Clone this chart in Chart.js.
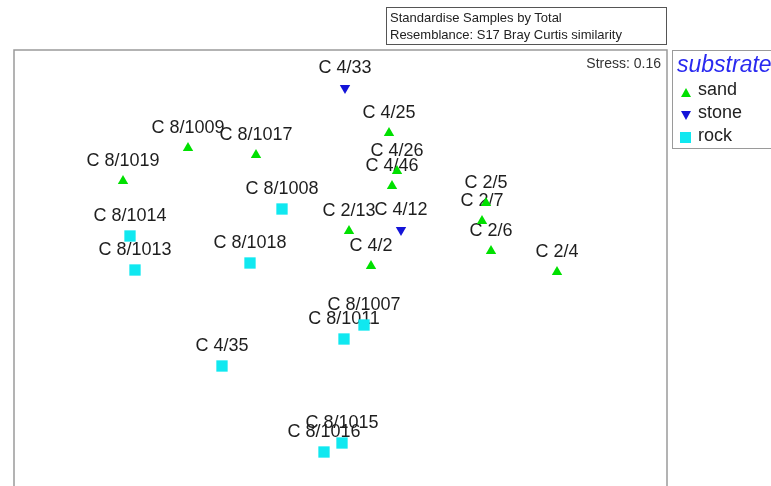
<!DOCTYPE html>
<html>
<head>
<meta charset="utf-8">
<title>nMDS – substrate</title>
<script src="https://cdn.jsdelivr.net/npm/chart.js@4.4.1/dist/chart.umd.min.js"></script>
<style>
  html, body { margin: 0; padding: 0; background: #fff; }
  #wrap { position: relative; width: 771px; height: 486px; overflow: hidden; font-family: "Liberation Sans", Arial, sans-serif; }
  #plot { position: absolute; left: 0; top: 0; }
  .box { position: absolute; box-sizing: border-box; }
  #info { left: 386px; top: 7px; width: 281px; height: 38px; border: 1px solid #555; font-size: 13px; color: #222; padding: 1px 0 0 3px; line-height: 17px; }
  #stress { right: 110px; top: 55px; font-size: 14px; color: #333; }
  #legend { left: 672px; top: 50px; width: 120px; height: 99px; border: 1.5px solid #9a9a9a; border-right: none; }
  #legend .ttl { position: absolute; left: 4px; top: 0px; font-size: 23px; font-style: italic; color: #2a2af0; white-space: nowrap; }
  #legend .item { position: absolute; left: 25px; font-size: 18px; color: #222; }
  .mk { position: absolute; left: 8px; width: 0; height: 0; }
</style>
</head>
<body>
<div id="wrap">
  <canvas id="plot" width="771" height="486"></canvas>
  <div class="box" id="info">Standardise Samples by Total<br>Resemblance: S17 Bray Curtis similarity</div>
  <div class="box" id="stress">Stress: 0.16</div>
  <div class="box" id="legend">
    <div class="ttl">substrate</div>
    <div class="mk" style="top:37px;border-left:5px solid transparent;border-right:5px solid transparent;border-bottom:9px solid #00e000;"></div>
    <div class="item" style="top:28px;">sand</div>
    <div class="mk" style="top:60px;border-left:5px solid transparent;border-right:5px solid transparent;border-top:9px solid #1414d8;"></div>
    <div class="item" style="top:51px;">stone</div>
    <div class="mk" style="top:81px;width:11px;height:11px;background:#10e8f0;left:7px;"></div>
    <div class="item" style="top:74px;">rock</div>
  </div>
</div>
<script>
// nMDS ordination coordinates (arbitrary units), grouped by substrate
const sandLabels = ['C 8/1009', 'C 8/1017', 'C 8/1019', 'C 4/25', 'C 4/26', 'C 4/46', 'C 2/13', 'C 4/2', 'C 2/5', 'C 2/7', 'C 2/6', 'C 2/4'];
const sandX = [-1.52, -0.84, -2.17, 0.49, 0.57, 0.52, 0.09, 0.31, 1.46, 1.42, 1.51, 2.17];
const sandY = [1.02, 0.95, 0.69, 1.17, 0.79, 0.64, 0.19, -0.16, 0.47, 0.29, -0.01, -0.22];

const stoneLabels = ['C 4/33', 'C 4/12'];
const stoneX = [0.05, 0.61];
const stoneY = [1.62, 0.20];

const rockLabels = ['C 8/1008', 'C 8/1014', 'C 8/1013', 'C 8/1018', 'C 8/1007', 'C 8/1011', 'C 4/35', 'C 8/1015', 'C 8/1016'];
const rockX = [-0.58, -2.10, -2.05, -0.90, 0.24, 0.04, -1.18, 0.02, -0.16];
const rockY = [0.41, 0.14, -0.20, -0.13, -0.75, -0.89, -1.16, -1.93, -2.02];

const toPoints = (xs, ys, labels) => xs.map((x, i) => ({ x: x, y: ys[i], label: labels[i] }));

// sample names sit above each point, drawn beneath the markers
const sampleNames = {
  id: 'sampleNames',
  beforeDatasetsDraw(chart) {
    const ctx = chart.ctx;
    ctx.save();
    ctx.font = '18px "Liberation Sans", Arial, sans-serif';
    ctx.fillStyle = '#1e1e1e';
    ctx.textAlign = 'center';
    ctx.textBaseline = 'middle';
    chart.data.datasets.forEach((ds, di) => {
      chart.getDatasetMeta(di).data.forEach((el, i) => {
        ctx.fillText(ds.data[i].label, el.x, el.y - 20);
      });
    });
    ctx.restore();
  }
};

// open frame around the ordination space
const frame = {
  id: 'frame',
  afterDraw(chart) {
    const a = chart.chartArea, ctx = chart.ctx;
    ctx.save();
    ctx.strokeStyle = '#9a9a9a';
    ctx.lineWidth = 1.5;
    ctx.beginPath();
    ctx.moveTo(a.left, a.bottom + 5);
    ctx.lineTo(a.left, a.top);
    ctx.lineTo(a.right, a.top);
    ctx.lineTo(a.right, a.bottom + 5);
    ctx.stroke();
    ctx.restore();
  }
};

new Chart(document.getElementById('plot'), {
  type: 'scatter',
  data: {
    datasets: [
      { label: 'sand', data: toPoints(sandX, sandY, sandLabels), pointStyle: 'triangle', radius: 6, backgroundColor: '#00e000', borderWidth: 0 },
      { label: 'stone', data: toPoints(stoneX, stoneY, stoneLabels), pointStyle: 'triangle', rotation: 180, radius: 6, backgroundColor: '#1414d8', borderWidth: 0 },
      { label: 'rock', data: toPoints(rockX, rockY, rockLabels), pointStyle: 'rect', radius: 8, backgroundColor: '#10e8f0', borderWidth: 0 }
    ]
  },
  options: {
    responsive: false,
    animation: false,
    events: [],
    layout: { autoPadding: false, padding: { left: 14, top: 50, right: 104, bottom: 0 } },
    scales: {
      x: { type: 'linear', min: -3.26, max: 3.27, display: false },
      y: { type: 'linear', min: -2.36, max: 2.0, display: false }
    },
    plugins: { legend: { display: false }, tooltip: { enabled: false } }
  },
  plugins: [sampleNames, frame]
});
</script>
</body>
</html>
